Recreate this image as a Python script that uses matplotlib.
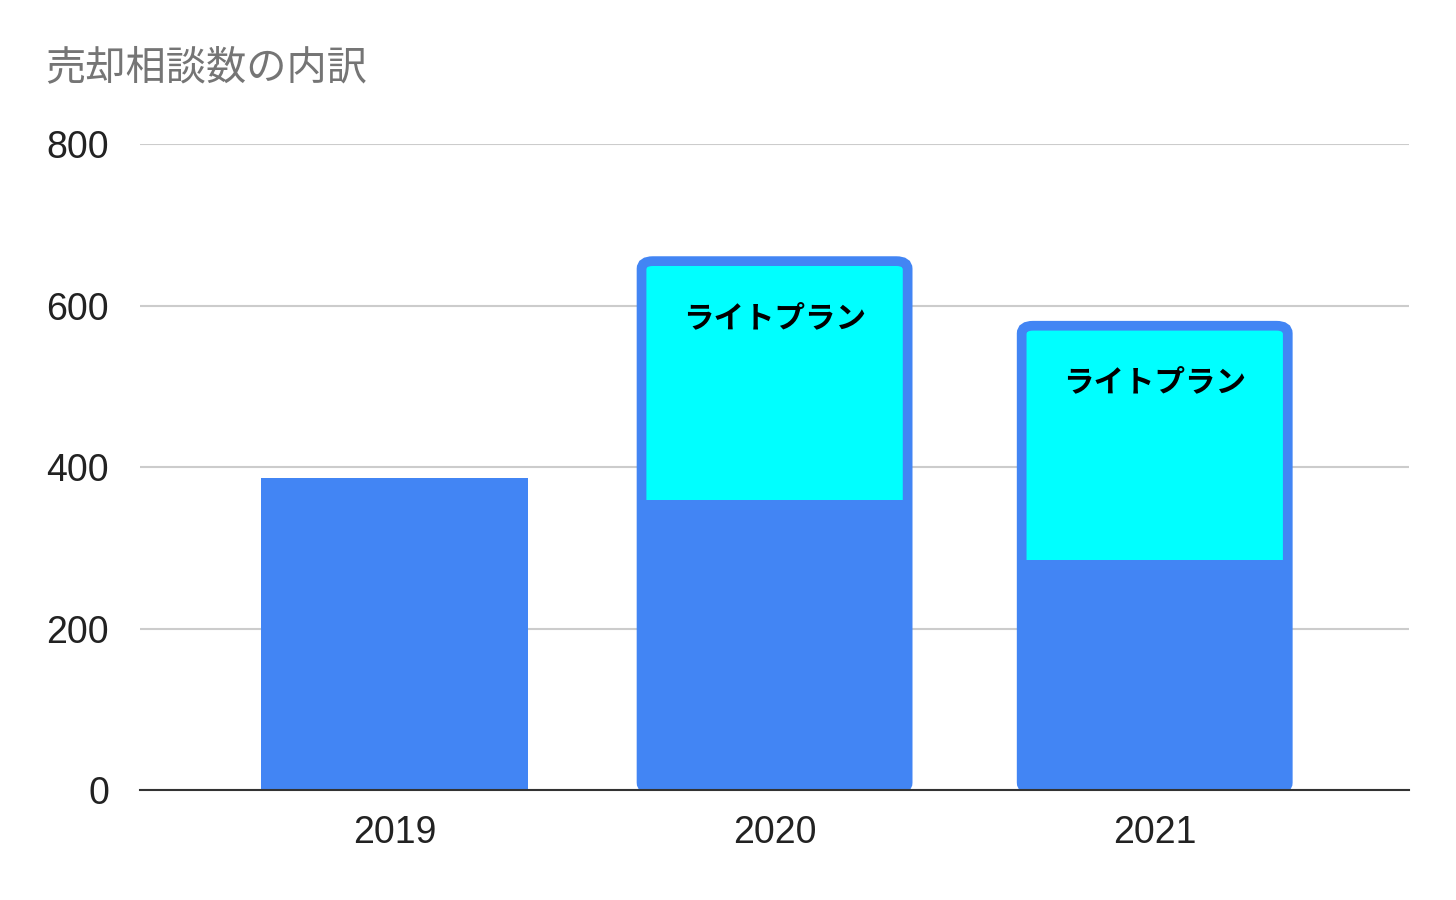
import matplotlib
matplotlib.use('Agg')
import matplotlib.pyplot as plt
from matplotlib.patches import FancyBboxPatch

plt.rcParams['font.family'] = ['Liberation Sans', 'Noto Sans CJK JP']

years = ['2019', '2020', '2021']
base = [386, 359, 285]
light = [0, 296, 290]
label = 'ライトプラン'

blue = '#4285f4'
cyan = '#00ffff'

fig = plt.figure(figsize=(14.56, 9), dpi=100)
ax = fig.add_axes([0.096, 0.122, 0.872, 0.718])

x = list(range(len(years)))
w = 0.7
ax.bar(x, base, width=w, color=blue, zorder=3)

for i in x:
    if light[i] <= 0:
        continue
    total = base[i] + light[i]
    # rounded blue frame around whole stack
    frame = FancyBboxPatch((i - w / 2, 0), w, total,
                           boxstyle='round,pad=0,rounding_size=0.03',
                           mutation_aspect=800 / 3.34 * 0.72 / 0.872 * 14.56 / 9,
                           facecolor='none', edgecolor=blue, linewidth=7, zorder=5)
    ax.add_patch(frame)
    ax.bar(i, light[i], bottom=base[i], width=w, color=cyan, zorder=4)
    ax.text(i, base[i] + light[i] * 0.76, label, ha='center', va='center',
            fontsize=22, fontweight='bold', family='Noto Sans CJK JP', zorder=6)

ax.set_xlim(-0.67, 2.67)
ax.set_ylim(0, 800)
ax.set_yticks([0, 200, 400, 600, 800])
ax.set_xticks(x)
ax.set_xticklabels(years)
ax.tick_params(axis='both', length=0, labelsize=27, colors='#222222')
ax.tick_params(axis='x', pad=18)
ax.tick_params(axis='y', pad=22)
ax.grid(axis='y', color='#cccccc', linewidth=1.5, zorder=0)
for s in ['top', 'right', 'left']:
    ax.spines[s].set_visible(False)
ax.spines['bottom'].set_color('#333333')
ax.spines['bottom'].set_linewidth(1.5)
ax.spines['bottom'].set_zorder(6)

fig.text(0.031, 0.925, '売却相談数の内訳', fontsize=29, color='#757575',
         family='Noto Sans CJK JP', va='center')

fig.savefig('out.png', dpi=100)
